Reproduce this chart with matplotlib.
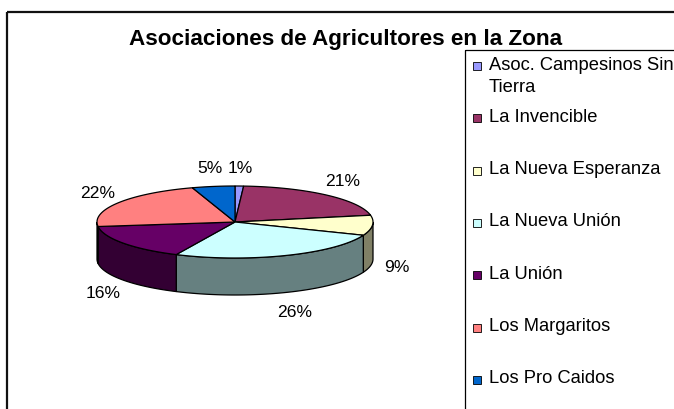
import numpy as np
import matplotlib.pyplot as plt
from matplotlib.patches import Polygon, Rectangle

plt.rcParams['font.family'] = ['Liberation Sans', 'DejaVu Sans']

# Données
asociaciones = ["Asoc. Campesinos Sin\nTierra", "La Invencible", "La Nueva Esperanza",
                "La Nueva Unión", "La Unión", "Los Margaritos", "Los Pro Caidos"]
porcentajes = [1, 21, 9, 26, 16, 22, 5]
couleurs = ["#9999FF", "#993366", "#FFFFCC", "#CCFFFF", "#660066", "#FF8080", "#0066CC"]
titre = "Asociaciones de Agricultores en la Zona"

# Géométrie du camembert 3D (en pixels)
cx, cy = 235, 222
a, b = 138, 36
prof = 37

fig = plt.figure(figsize=(6.74, 4.09), dpi=100)
ax = fig.add_axes([0, 0, 1, 1])
ax.set_xlim(0, 674)
ax.set_ylim(409, 0)
ax.axis('off')

# Cadre et titre
ax.add_patch(Rectangle((6.5, 12), 800, 600, fill=False, lw=1.6, ec="#111111"))
ax.text(346, 45, titre, ha='center', va='baseline', fontsize=16.2, fontweight='bold')


def ellipse_pts(t_deb, t_fin, dy=0, n=120):
    t = np.radians(np.linspace(t_deb, t_fin, n))
    return np.column_stack([cx + a * np.cos(t), cy - b * np.sin(t) + dy])


total = float(sum(porcentajes))
bornes = 90 - 360 * np.concatenate([[0], np.cumsum(porcentajes)]) / total

def sombre(c):
    r, g, bl = [int(c[i:i + 2], 16) for i in (1, 3, 5)]
    return (r / 510, g / 510, bl / 510)

# Parois latérales (partie avant seulement)
for i, c in enumerate(couleurs):
    t1, t2 = bornes[i], bornes[i + 1]
    hi, lo = min(t1, 0), max(t2, -180)
    if lo < hi:
        haut = ellipse_pts(hi, lo)
        bas = ellipse_pts(lo, hi, dy=prof)
        ax.add_patch(Polygon(np.vstack([haut, bas]), closed=True, fc=sombre(c),
                             ec='black', lw=0.9, zorder=2))

# Faces supérieures
for i, c in enumerate(couleurs):
    t1, t2 = bornes[i], bornes[i + 1]
    pts = np.vstack([[cx, cy], ellipse_pts(t1, t2)])
    ax.add_patch(Polygon(pts, closed=True, fc=c, ec='black', lw=0.9, zorder=3))

# Étiquettes de pourcentage
for i, v in enumerate(porcentajes):
    m = np.radians((bornes[i] + bornes[i + 1]) / 2)
    x = cx + 1.18 * a * np.cos(m)
    y = cy - 1.5 * b * np.sin(m) + (prof + 3 if np.sin(m) < 0 else 0)
    ax.text(x, y, f"{v}%", ha='center', va='center', fontsize=12.6)

# Légende
ax.add_patch(Rectangle((465, 50), 400, 500, fill=False, lw=0.9, ec='black'))
for i, (nom, c) in enumerate(zip(asociaciones, couleurs)):
    y = 66 + i * 52.3
    ax.add_patch(Rectangle((473, y - 4), 8, 8, fc=c, ec='black', lw=0.6))
    ax.text(489, y - 9.5, nom, ha='left', va='top', fontsize=13.2, linespacing=1.4)

fig.savefig("out.png", dpi=100)
